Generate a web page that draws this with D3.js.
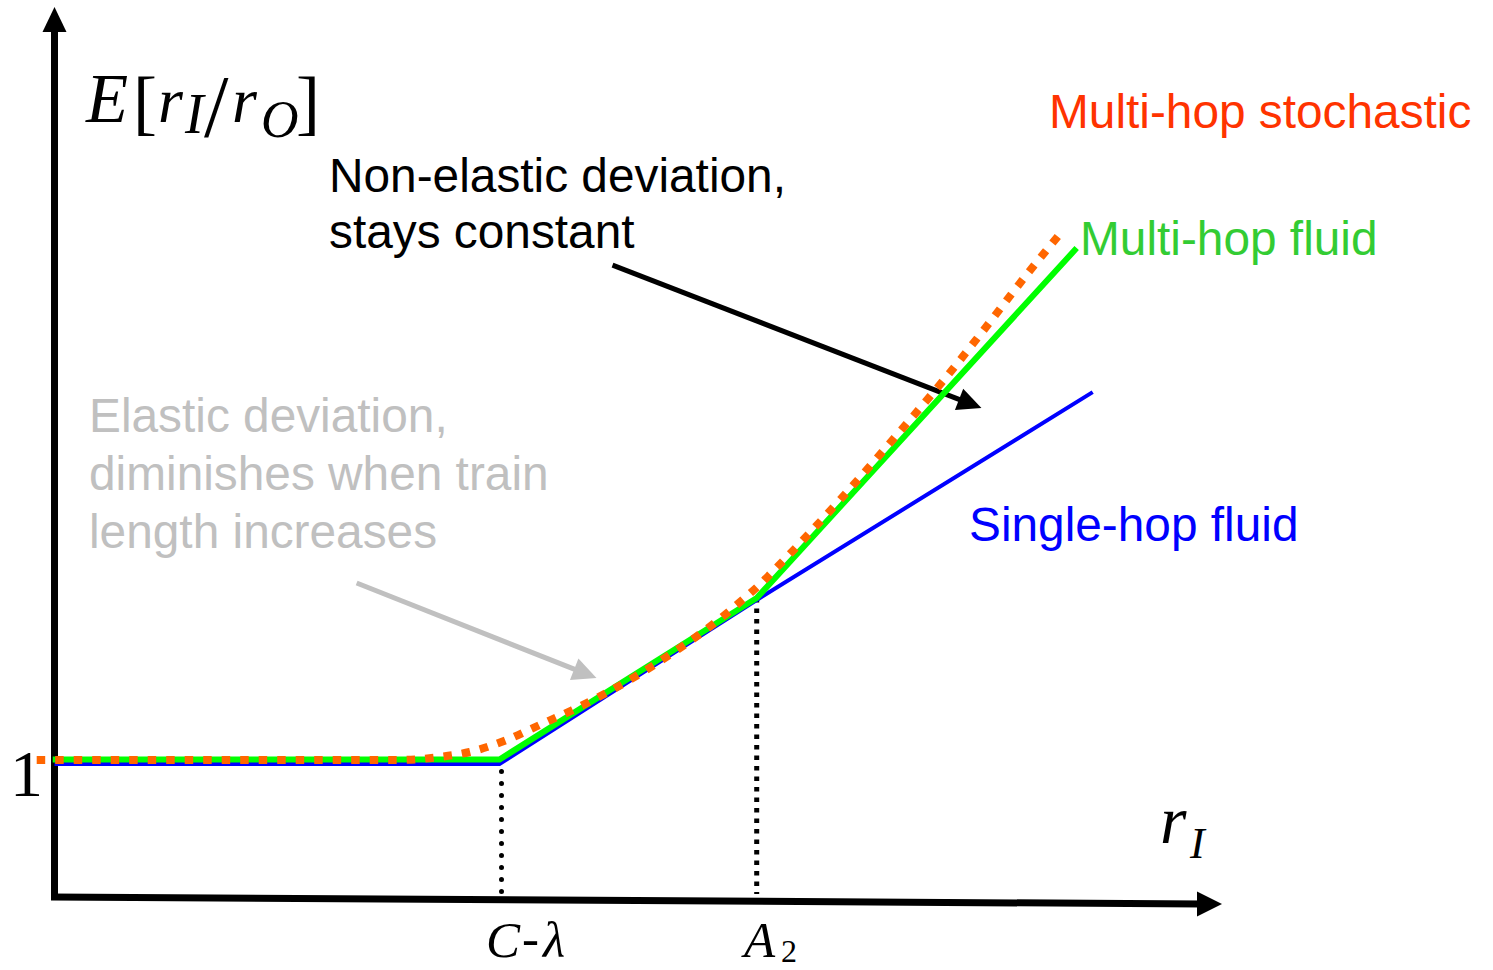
<!DOCTYPE html>
<html>
<head>
<meta charset="utf-8">
<script src="https://cdn.jsdelivr.net/npm/d3@7"></script>
<style>
  html, body { margin: 0; padding: 0; background: #fff; }
  svg { display: block; }
  .sans { font-family: Arial, "Liberation Sans", Helvetica, sans-serif; font-size: 47.8px; }
  .math { font-family: "Liberation Serif", "Times New Roman", serif; }
</style>
</head>
<body>
<svg id="chart" width="1493" height="970"></svg>
<script>
// ---- data (x in units of C-λ, y = E[r_I/r_O]) ----
const singleHopX = [0.0, 1.0, 1.578, 2.333];
const singleHopY = [0.985, 0.985, 2.20, 3.74];

const multiFluidX = [-0.004, 1.0, 1.578, 2.297];
const multiFluidY = [1.019, 1.019, 2.215, 4.807];

const stochX = [-0.040, 0.775, 0.865, 0.933, 1.016, 1.090, 1.164, 1.240, 1.315, 1.382, 1.454, 1.517, 1.551, 1.584, 1.613, 1.926, 2.004, 2.083, 2.184, 2.263];
const stochY = [1.015, 1.015, 1.037, 1.074, 1.163, 1.274, 1.385, 1.511, 1.652, 1.793, 1.956, 2.119, 2.215, 2.311, 2.407, 3.548, 3.852, 4.178, 4.607, 4.926];

const markX = [1.0, 1.578];          // C-λ, A2
const markTop = [0.93, 2.215];

// annotation arrows [x0, y0, x1, y1] in data units
const nonElasticArrow = [1.254, 4.681, 2.083, 3.622];
const elasticArrow = [0.679, 2.326, 1.218, 1.622];

const nonElasticLines = ["Non-elastic deviation,", "stays constant"];
const elasticLines = ["Elastic deviation,", "diminishes when train", "length increases"];

// ---- scales ----
const x = d3.scaleLinear().domain([0, 1]).range([54.5, 499.5]);
const y = d3.scaleLinear().domain([0, 1]).range([897, 762]);

const svg = d3.select("#chart");

// ---- axes ----
const axisG = svg.append("g");
axisG.append("line").attr("x1", 54.5).attr("y1", 900).attr("x2", 54.5).attr("y2", 28)
  .attr("stroke", "#000").attr("stroke-width", 7);
axisG.append("path").attr("d", "M54.5,7 L42.5,32 L66.5,32 Z").attr("fill", "#000");
axisG.append("line").attr("x1", 51).attr("y1", 897).attr("x2", 1202).attr("y2", 904)
  .attr("stroke", "#000").attr("stroke-width", 7);
axisG.append("path").attr("d", "M1222,904.1 L1197,891.5 L1197,916.5 Z").attr("fill", "#000");

// ---- arrows ----
function arrow(a, color) {
  const x0 = x(a[0]), y0 = y(a[1]), x1 = x(a[2]), y1 = y(a[3]);
  const ang = Math.atan2(y1 - y0, x1 - x0);
  const L = 24, W = 11.5;
  const bx = x1 - L * Math.cos(ang), by = y1 - L * Math.sin(ang);
  svg.append("line").attr("x1", x0).attr("y1", y0).attr("x2", bx + 2 * Math.cos(ang)).attr("y2", by + 2 * Math.sin(ang))
    .attr("stroke", color).attr("stroke-width", 5);
  const px = -Math.sin(ang) * W, py = Math.cos(ang) * W;
  svg.append("path")
    .attr("d", `M${x1},${y1} L${bx + px},${by + py} L${bx - px},${by - py} Z`)
    .attr("fill", color);
}
arrow(nonElasticArrow, "#000");
arrow(elasticArrow, "#C0C0C0");

// ---- dotted drop lines ----
svg.append("line").attr("x1", x(markX[0]) + 2).attr("x2", x(markX[0]) + 2)
  .attr("y1", y(markTop[0])).attr("y2", y(0) - 4)
  .attr("stroke", "#000").attr("stroke-width", 5).attr("stroke-linecap", "round")
  .attr("stroke-dasharray", "0,12");
svg.append("line").attr("x1", x(markX[1])).attr("x2", x(markX[1]))
  .attr("y1", y(markTop[1])).attr("y2", y(0) - 3)
  .attr("stroke", "#000").attr("stroke-width", 5)
  .attr("stroke-dasharray", "4.5,6");

// ---- series ----
const lineGen = d3.line().x(d => x(d[0])).y(d => y(d[1]));
const zip = (a, b) => a.map((v, i) => [v, b[i]]);

svg.append("path").datum(zip(singleHopX, singleHopY))
  .attr("d", lineGen).attr("fill", "none").attr("stroke", "#0000FF").attr("stroke-width", 4);
svg.append("path").datum(zip(multiFluidX, multiFluidY))
  .attr("d", lineGen).attr("fill", "none").attr("stroke", "#00FF00").attr("stroke-width", 6);
svg.append("path").datum(zip(stochX, stochY))
  .attr("d", d3.line().curve(d3.curveMonotoneX).x(d => x(d[0])).y(d => y(d[1])))
  .attr("fill", "none").attr("stroke", "#FF6600").attr("stroke-width", 8)
  .attr("stroke-dasharray", "8.5,10");

// ---- text labels ----
svg.append("text").attr("class", "sans").attr("x", 1049).attr("y", 128).attr("fill", "#FF3300").text("Multi-hop stochastic");
svg.append("text").attr("class", "sans").attr("x", 1080).attr("y", 255).attr("fill", "#33CC33").text("Multi-hop fluid");
svg.append("text").attr("class", "sans").attr("x", 969).attr("y", 541).attr("fill", "#0000FF").text("Single-hop fluid");

nonElasticLines.forEach((t, i) => {
  svg.append("text").attr("class", "sans").attr("x", 329).attr("y", 192 + i * 56).attr("fill", "#000").text(t);
});
elasticLines.forEach((t, i) => {
  svg.append("text").attr("class", "sans").attr("x", 89).attr("y", 432 + i * 58).attr("fill", "#C0C0C0").text(t);
});

// ---- math labels ----
function mtext(str, px, py, size, italic) {
  svg.append("text").attr("class", "math").attr("x", px).attr("y", py)
    .attr("font-size", size).attr("font-style", italic ? "italic" : "normal")
    .attr("fill", "#000").text(str);
}
// E[r_I / r_O]
mtext("E", 86, 122, 69, true);
mtext("[", 133, 126, 72, false);
mtext("r", 158, 122, 64, true);
mtext("I", 185, 133, 56, true);
mtext("/", 204, 136, 88, false);
mtext("r", 232, 122, 64, true);
mtext("O", 261, 137, 52, true);
mtext("]", 296, 126, 72, false);

// tick "1"
mtext("1", 10, 796, 66, false);

// C-λ
mtext("C", 486, 957, 51, true);
mtext("-", 522, 955, 51, false);
mtext("λ", 543, 957, 51, true);

// A_2
mtext("A", 744, 957, 51, true);
mtext("2", 781, 962, 32, false);

// r_I axis label
mtext("r", 1160, 843, 68, true);
mtext("I", 1190, 858, 44, true);
</script>
</body>
</html>
